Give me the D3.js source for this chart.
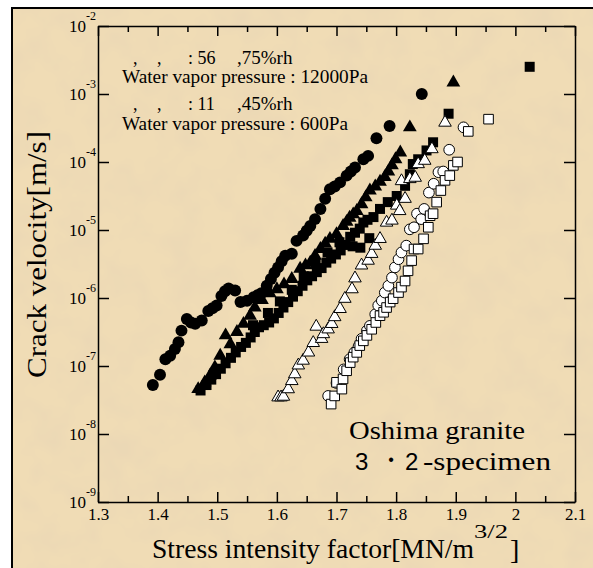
<!DOCTYPE html>
<html>
<head>
<meta charset="utf-8">
<script src="https://cdn.jsdelivr.net/npm/d3@7"></script>
<style>
body { margin: 0; background: #fff; }
svg { display: block; }
text { font-family: "Liberation Serif", "Times New Roman", serif; fill: #000; }
</style>
</head>
<body>
<svg id="chart" width="593" height="568"></svg>
<script>
// [stress intensity factor K (MN/m^3/2), log10 crack velocity (m/s)]
const filledCircles = [
	[1.392, -7.28], [1.404, -7.13], [1.413, -6.90], [1.421, -6.85], [1.429, -6.75], [1.435, -6.65],
	[1.440, -6.48], [1.449, -6.31], [1.456, -6.36], [1.463, -6.38], [1.474, -6.33], [1.485, -6.19],
	[1.492, -6.15], [1.499, -6.11], [1.507, -5.97], [1.513, -5.90], [1.519, -5.86], [1.530, -5.89],
	[1.539, -6.06], [1.550, -6.04], [1.561, -5.99], [1.568, -5.96], [1.574, -5.93], [1.583, -5.82],
	[1.590, -5.72], [1.596, -5.63], [1.602, -5.55], [1.608, -5.46], [1.614, -5.38], [1.625, -5.35],
	[1.633, -5.16], [1.644, -5.08], [1.650, -5.01], [1.656, -4.94], [1.664, -4.84], [1.673, -4.69],
	[1.681, -4.54], [1.689, -4.40], [1.697, -4.36], [1.706, -4.30], [1.717, -4.20], [1.724, -4.14],
	[1.731, -4.08], [1.745, -3.96], [1.753, -3.91], [1.767, -3.65], [1.789, -3.47], [1.843, -3.00]
];
const filledTriangles = [
	[1.468, -7.34], [1.479, -7.24], [1.488, -7.14], [1.496, -7.02], [1.505, -6.85], [1.514, -6.55],
	[1.522, -6.68], [1.533, -6.50], [1.544, -6.38], [1.555, -6.26], [1.563, -6.14], [1.575, -6.03],
	[1.588, -5.93], [1.600, -5.87], [1.612, -5.80], [1.625, -5.72], [1.639, -5.57], [1.648, -5.52],
	[1.656, -5.48], [1.664, -5.38], [1.673, -5.28], [1.681, -5.20], [1.689, -5.13], [1.700, -5.06],
	[1.711, -4.94], [1.717, -4.88], [1.722, -4.82], [1.728, -4.77], [1.734, -4.72], [1.742, -4.62],
	[1.749, -4.52], [1.756, -4.42], [1.765, -4.36], [1.773, -4.29], [1.781, -4.22], [1.787, -4.14],
	[1.793, -4.05], [1.799, -3.96], [1.807, -3.86], [1.823, -3.49], [1.896, -2.83]
];
const filledSquares = [
	[1.472, -7.36], [1.482, -7.28], [1.490, -7.20], [1.498, -7.12], [1.506, -7.04], [1.514, -6.96],
	[1.523, -6.88], [1.531, -6.80], [1.540, -6.72], [1.548, -6.66], [1.556, -6.58], [1.560, -6.40],
	[1.563, -6.50], [1.570, -6.43], [1.578, -6.40], [1.585, -6.22], [1.587, -6.36], [1.595, -6.30],
	[1.603, -6.22], [1.605, -6.05], [1.611, -6.14], [1.619, -6.06], [1.625, -5.88], [1.627, -5.98],
	[1.635, -5.90], [1.643, -5.82], [1.645, -5.68], [1.651, -5.74], [1.659, -5.68], [1.665, -5.50],
	[1.667, -5.62], [1.675, -5.56], [1.683, -5.48], [1.685, -5.33], [1.691, -5.42], [1.699, -5.36],
	[1.705, -5.18], [1.707, -5.30], [1.715, -5.22], [1.723, -5.10], [1.727, -5.24], [1.731, -5.04],
	[1.739, -4.98], [1.740, -5.26], [1.745, -4.89], [1.752, -4.85], [1.755, -5.12], [1.762, -4.81],
	[1.773, -4.69], [1.786, -4.59], [1.801, -4.50], [1.815, -4.35], [1.823, -4.18], [1.828, -4.03],
	[1.837, -3.96], [1.851, -3.83], [1.862, -3.71], [1.888, -3.29], [2.024, -2.60]
];
const openTriangles = [
	[1.602, -7.46], [1.607, -7.46], [1.611, -7.45], [1.619, -7.34], [1.625, -7.22], [1.630, -7.12],
	[1.636, -6.99], [1.644, -6.92], [1.653, -6.80], [1.661, -6.66], [1.666, -6.42], [1.675, -6.60],
	[1.678, -6.53], [1.686, -6.46], [1.692, -6.38], [1.697, -6.28], [1.706, -6.16], [1.714, -6.01],
	[1.726, -5.87], [1.731, -5.71], [1.742, -5.52], [1.753, -5.45], [1.759, -5.35], [1.765, -5.23],
	[1.773, -5.13], [1.784, -4.89], [1.793, -4.86], [1.801, -4.64], [1.806, -4.72], [1.815, -4.54],
	[1.809, -4.28], [1.823, -4.25], [1.832, -4.23], [1.837, -4.03], [1.848, -3.98], [1.860, -3.81],
	[1.882, -3.42]
];
const openCircles = [
	[1.686, -7.44], [1.700, -7.25], [1.712, -7.05], [1.722, -6.90], [1.730, -6.80], [1.737, -6.71],
	[1.742, -6.60], [1.751, -6.48], [1.756, -6.41], [1.765, -6.24], [1.770, -6.11], [1.776, -6.04],
	[1.781, -5.92], [1.787, -5.82], [1.793, -5.70], [1.798, -5.55], [1.804, -5.43], [1.809, -5.33],
	[1.817, -5.23], [1.823, -4.99], [1.830, -4.96], [1.835, -4.76], [1.842, -4.84], [1.847, -4.69],
	[1.855, -4.45], [1.863, -4.32], [1.871, -4.15], [1.879, -4.14], [1.889, -3.82], [1.913, -3.49]
];
const openSquares = [
	[1.691, -7.56], [1.697, -7.44], [1.700, -7.24], [1.709, -7.34], [1.711, -7.19], [1.717, -7.07],
	[1.723, -6.95], [1.728, -6.87], [1.734, -6.80], [1.739, -6.70], [1.745, -6.63], [1.751, -6.55],
	[1.759, -6.46], [1.766, -6.36], [1.773, -6.26], [1.779, -6.21], [1.784, -6.14], [1.790, -6.06],
	[1.795, -6.01], [1.804, -5.92], [1.809, -5.84], [1.815, -5.75], [1.820, -5.60], [1.826, -5.45],
	[1.830, -5.28], [1.837, -5.28], [1.846, -5.13], [1.854, -4.96], [1.857, -4.79], [1.862, -4.76],
	[1.868, -4.59], [1.875, -4.42], [1.882, -4.27], [1.890, -4.20], [1.896, -4.05], [1.903, -4.00],
	[1.921, -3.55], [1.955, -3.37]
];

const kTicks = [1.3, 1.4, 1.5, 1.6, 1.7, 1.8, 1.9, 2.0, 2.1];
const kMinorTicks = [1.35, 1.45, 1.55, 1.65, 1.75, 1.85, 1.95, 2.05];
const vExponents = [-2, -3, -4, -5, -6, -7, -8, -9];

const svg = d3.select('#chart');

const x = d3.scaleLinear().domain([1.3, 2.1]).range([98, 575]);
const y = d3.scaleLog().domain([1e-9, 1e-2]).range([502, 26]);

// paper background
const defs = svg.append('defs');
const paper = defs.append('filter').attr('id', 'paper')
	.attr('x', 0).attr('y', 0).attr('width', '100%').attr('height', '100%');
paper.append('feTurbulence').attr('type', 'fractalNoise')
	.attr('baseFrequency', '0.03').attr('numOctaves', 3).attr('seed', 7).attr('result', 'n');
paper.append('feColorMatrix').attr('in', 'n').attr('type', 'matrix')
	.attr('values', '0 0 0 0 0.80  0 0 0 0 0.66  0 0 0 0 0.46  1.1 0 0 0 -0.42');

svg.append('rect').attr('x', 11).attr('y', 7).attr('width', 582).attr('height', 561).attr('fill', '#f0dcb5');
svg.append('rect').attr('x', 11).attr('y', 7).attr('width', 582).attr('height', 561)
	.attr('fill', '#000').attr('filter', 'url(#paper)');
svg.append('path').attr('d', 'M12,568V8H593').attr('fill', 'none').attr('stroke', '#000').attr('stroke-width', 2);

// markers
const series = [
	{ data: filledCircles, type: d3.symbolCircle, size: 112, filled: true },
	{ data: filledTriangles, type: d3.symbolTriangle, size: 82, filled: true },
	{ data: filledSquares, type: d3.symbolSquare, size: 100, filled: true },
	{ data: openTriangles, type: d3.symbolTriangle, size: 68, filled: false },
	{ data: openCircles, type: d3.symbolCircle, size: 90, filled: false },
	{ data: openSquares, type: d3.symbolSquare, size: 92, filled: false }
];

series.forEach(s => {
	svg.append('g')
		.selectAll('path')
		.data(s.data)
		.join('path')
		.attr('transform', d => `translate(${x(d[0])},${y(Math.pow(10, d[1]))})`)
		.attr('d', d3.symbol().type(s.type).size(s.size)())
		.attr('fill', s.filled ? '#000' : '#fff')
		.attr('stroke', '#000')
		.attr('stroke-width', s.filled ? 0 : 1);
});

// axes
const styleAxis = g => {
	g.selectAll('path, line').attr('stroke', '#000').attr('stroke-width', 1.5);
	g.attr('font-family', null).attr('font-size', null);
};
const vTicks = vExponents.map(e => Math.pow(10, e));

svg.append('g')
	.attr('transform', 'translate(0,502)')
	.call(d3.axisBottom(x).tickValues(kTicks).tickSizeInner(-10).tickSizeOuter(0).tickPadding(6)
		.tickFormat(d => (d === 2 ? '2' : d3.format('.1f')(d))))
	.call(styleAxis)
	.call(g => g.selectAll('.tick text').attr('font-size', 17));

svg.append('g')
	.attr('transform', 'translate(0,502)')
	.call(d3.axisBottom(x).tickValues(kMinorTicks).tickSizeInner(-6).tickSizeOuter(0).tickFormat(''))
	.call(styleAxis)
	.call(g => g.select('.domain').remove());

svg.append('g')
	.attr('transform', 'translate(0,26)')
	.call(d3.axisTop(x).tickValues(kTicks).tickSizeInner(-10).tickSizeOuter(0).tickFormat(''))
	.call(styleAxis);

svg.append('g')
	.attr('transform', 'translate(0,26)')
	.call(d3.axisTop(x).tickValues(kMinorTicks).tickSizeInner(-6).tickSizeOuter(0).tickFormat(''))
	.call(styleAxis)
	.call(g => g.select('.domain').remove());

svg.append('g')
	.attr('transform', 'translate(98,0)')
	.call(d3.axisLeft(y).tickValues(vTicks).tickSizeInner(-11).tickSizeOuter(0).tickFormat(''))
	.call(styleAxis)
	.call(g => {
		const t = g.selectAll('.tick text').attr('x', -2).attr('y', 5).attr('dy', null);
		t.append('tspan').attr('font-size', 17).text('10');
		t.append('tspan').attr('font-size', 12).attr('dy', -12)
			.text(d => String(Math.round(Math.log10(d))));
	});

svg.append('g')
	.attr('transform', 'translate(575,0)')
	.call(d3.axisRight(y).tickValues(vTicks).tickSizeInner(-11).tickSizeOuter(0).tickFormat(''))
	.call(styleAxis);

// axis titles
svg.append('text')
	.attr('transform', 'translate(46,378) rotate(-90)')
	.attr('font-size', 28)
	.attr('textLength', 247).attr('lengthAdjust', 'spacingAndGlyphs')
	.text('Crack velocity[m/s]');

svg.append('text').attr('x', 152).attr('y', 558).attr('font-size', 27)
	.attr('textLength', 322).attr('lengthAdjust', 'spacingAndGlyphs')
	.text('Stress intensity factor[MN/m');
svg.append('text').attr('x', 474).attr('y', 538).attr('font-size', 19)
	.attr('textLength', 34).attr('lengthAdjust', 'spacingAndGlyphs')
	.text('3/2');
svg.append('text').attr('x', 510).attr('y', 559).attr('font-size', 28).text(']');

// annotations
const condLine = (yy, temp, rh) => {
	const t = svg.append('text').attr('y', yy).attr('font-size', 18);
	t.append('tspan').attr('x', 133).text(',');
	t.append('tspan').attr('x', 157).text(',');
	t.append('tspan').attr('x', 188).text(': ' + temp);
	t.append('tspan').attr('x', 237).attr('font-size', 19).text(',' + rh + '%rh');
};
condLine(64, '56', '75');
svg.append('text').attr('x', 122).attr('y', 83).attr('font-size', 18)
	.attr('textLength', 246).attr('lengthAdjust', 'spacingAndGlyphs')
	.text('Water vapor pressure : 12000Pa');
condLine(110, '11', '45');
svg.append('text').attr('x', 122).attr('y', 130).attr('font-size', 18)
	.attr('textLength', 226).attr('lengthAdjust', 'spacingAndGlyphs')
	.text('Water vapor pressure : 600Pa');

svg.append('text').attr('x', 349).attr('y', 439).attr('font-size', 26)
	.attr('textLength', 176).attr('lengthAdjust', 'spacingAndGlyphs')
	.text('Oshima granite');
svg.append('text').attr('x', 355).attr('y', 470).attr('font-size', 24)
	.style('font-family', '"Liberation Sans", Arial, sans-serif').text('3');
svg.append('text').attr('x', 391).attr('y', 465).attr('font-size', 16).attr('text-anchor', 'middle')
	.style('font-family', '"Liberation Sans", Arial, sans-serif').text('•');
svg.append('text').attr('x', 405).attr('y', 470).attr('font-size', 24)
	.style('font-family', '"Liberation Sans", Arial, sans-serif').text('2');
svg.append('text').attr('x', 423).attr('y', 470).attr('font-size', 26)
	.attr('textLength', 128).attr('lengthAdjust', 'spacingAndGlyphs')
	.text('-specimen');
</script>
</body>
</html>
